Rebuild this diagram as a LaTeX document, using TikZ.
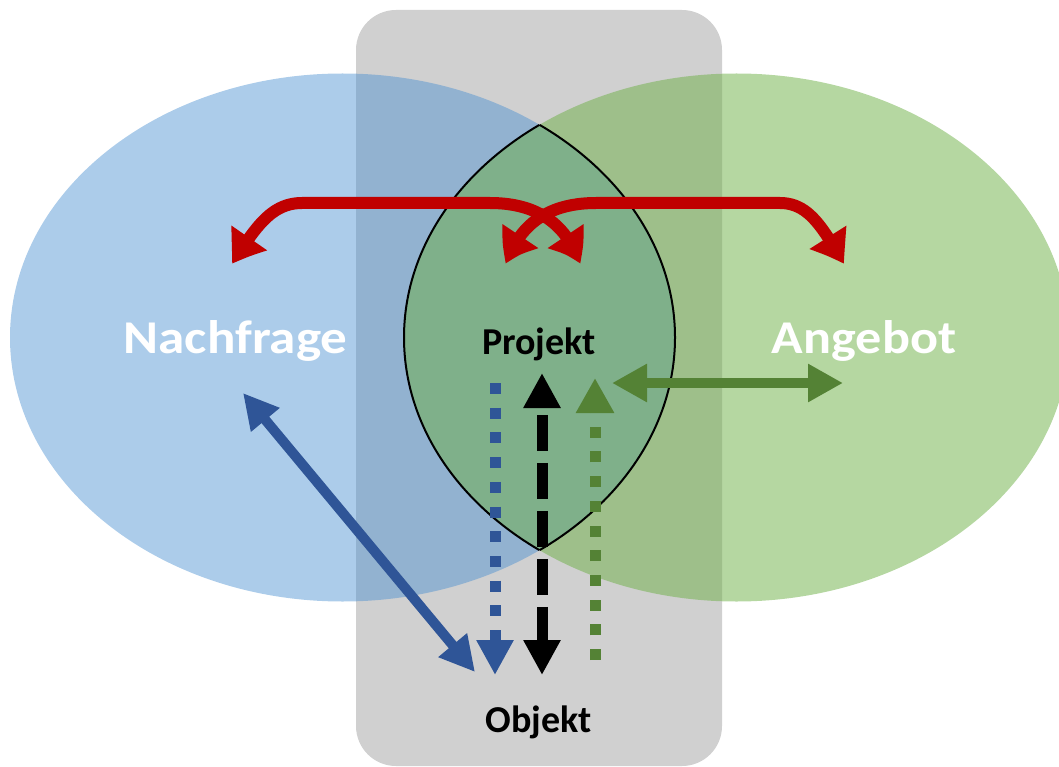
\documentclass[tikz,border=0pt]{standalone}
\usepackage{fontspec}
\setmainfont{Carlito}
\usetikzlibrary{arrows.meta,bending}

\definecolor{boxgray}{RGB}{208,208,208}
\definecolor{demandblue}{RGB}{72,143,208}
\definecolor{supplygreen}{RGB}{110,176,71}
\definecolor{arrowred}{RGB}{192,0,0}
\definecolor{arrowblue}{RGB}{47,85,151}
\definecolor{arrowgreen}{RGB}{84,130,53}

\tikzset{
  Rtip/.tip={Triangle[length=33pt,width=40pt,bend]},
  Btip/.tip={Triangle[length=35pt,width=35pt]},
  Ktip/.tip={Triangle[length=35pt,width=35pt]},
  Gtip/.tip={Triangle[length=35pt,width=36pt]},
  redarrow/.style={draw=arrowred,line width=12pt,arrows=Rtip-Rtip},
  bluearrow/.style={draw=arrowblue,line width=10pt,arrows=Btip-Btip},
  bluedots/.style={draw=arrowblue,line width=11pt,dash pattern=on 11pt off 13.7pt,arrows=-Btip},
  blackdash/.style={draw=black,line width=11pt,dash pattern=on 36pt off 12pt,dash phase=39pt,arrows=Ktip-Ktip},
  greendots/.style={draw=arrowgreen,line width=11pt,dash pattern=on 11pt off 13.7pt,arrows=-Gtip},
  greenarrow/.style={draw=arrowgreen,line width=10pt,arrows=Gtip-Gtip},
  bigword/.style={text=white,font=\bfseries\fontsize{47}{50}\selectfont,anchor=base,inner sep=0pt},
  smallword/.style={text=black,font=\bfseries\fontsize{38}{40}\selectfont,anchor=base,inner sep=0pt},
  lensline/.style={draw=black,line width=2pt},
}

\begin{document}
\begin{tikzpicture}[x=1pt,y=-1pt]
  \useasboundingbox (0,0) rectangle (1059,767);

  % central column
  \fill[boxgray,rounded corners=40pt] (356,10) rectangle (722,766);

  % demand and supply ellipses
  \fill[demandblue,fill opacity=0.45] (342.5,337.5) ellipse [x radius=332.5,y radius=264];
  \fill[supplygreen,fill opacity=0.51] (736.5,337.5) ellipse [x radius=332.5,y radius=264];

  % outline of the overlap
  \begin{scope}
    \clip (342.5,337.5) ellipse [x radius=332.5,y radius=264];
    \draw[lensline] (736.5,337.5) ellipse [x radius=332.5,y radius=264];
  \end{scope}
  \begin{scope}
    \clip (736.5,337.5) ellipse [x radius=332.5,y radius=264];
    \draw[lensline] (342.5,337.5) ellipse [x radius=332.5,y radius=264];
  \end{scope}

  % labels
  \node[bigword]   (nachfrage) at (235.5,353) {\scalebox{1.13}[1]{Nachfrage}};
  \node[bigword]   (angebot)   at (864,353)   {\scalebox{1.11}[1]{Angebot}};
  \node[smallword] (projekt)   at (539,354)   {Projekt};
  \node[smallword] (objekt)    at (538.5,732) {Objekt};

  % arrow end points
  \coordinate (rA1) at (232,264);
  \coordinate (rA2) at (580,264);
  \coordinate (rB1) at (844,264);
  \coordinate (rB2) at (506,264);
  \coordinate (bd1) at (243,393);
  \coordinate (bd2) at (475,672);
  \coordinate (bt1) at (495,383);
  \coordinate (bt2) at (495,675);
  \coordinate (k1)  at (542,373);
  \coordinate (k2)  at (542,675);
  \coordinate (g1)  at (595,660);
  \coordinate (g2)  at (595,378);
  \coordinate (h1)  at (612,383);
  \coordinate (h2)  at (843,383);

  % red exchange arrows
  \draw[redarrow] (rA1) .. controls (256,226) and (272,203) .. (302,203)
    -- (490,203) .. controls (535,203) and (566,222) .. (rA2);
  \draw[redarrow] (rB1) .. controls (822,226) and (808,203) .. (780,203)
    -- (596,203) .. controls (551,203) and (520,222) .. (rB2);

  % demand side
  \draw[bluearrow] (bd1) -- (bd2);
  \draw[bluedots] (bt1) -- (bt2);

  % project / object link
  \draw[blackdash] (k1) -- (k2);

  % supply side
  \draw[greendots] (g1) -- (g2);
  \draw[greenarrow] (h1) -- (h2);
\end{tikzpicture}
\end{document}
